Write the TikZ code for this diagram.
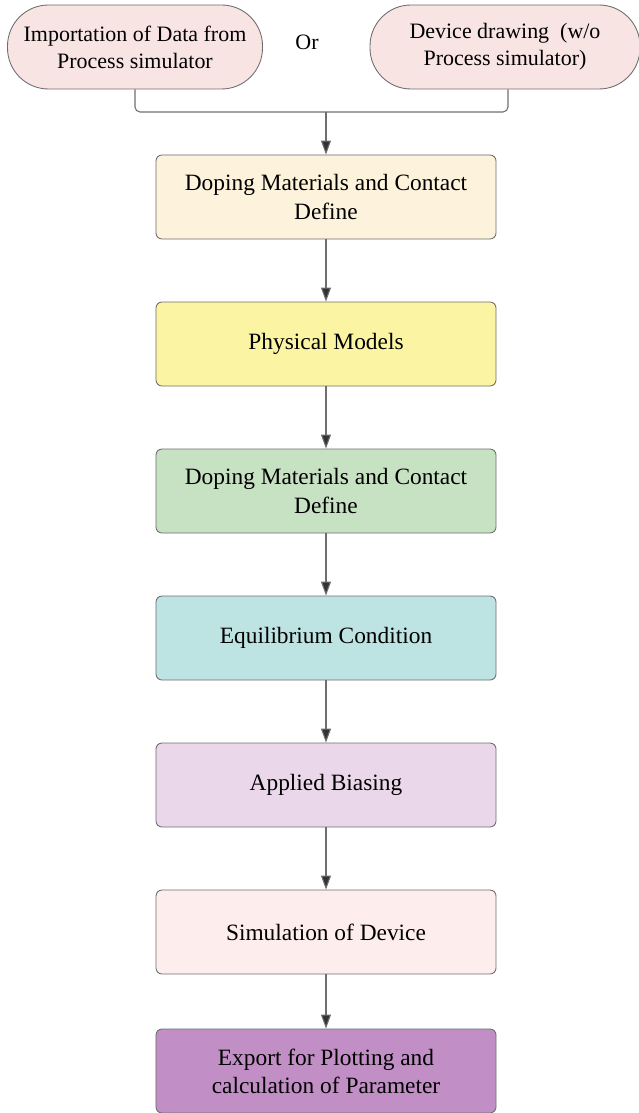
\documentclass[tikz,border=0pt]{standalone}
\usepackage{fontspec}
\setmainfont{Liberation Serif}
\usetikzlibrary{arrows.meta}
\definecolor{inpink}{HTML}{F9E4E4}
\definecolor{cream}{HTML}{FDF2DB}
\definecolor{lemon}{HTML}{FBF4A2}
\definecolor{sage}{HTML}{C7E1C3}
\definecolor{aqua}{HTML}{BEE3E3}
\definecolor{lilac}{HTML}{EAD8EA}
\definecolor{blush}{HTML}{FDEDED}
\definecolor{plum}{HTML}{C18FC5}
\definecolor{edge}{HTML}{6E6E6E}
\tikzstyle{stage} = [draw=edge, line width=0.5pt, rounded corners=1.2mm, minimum width=6.8cm, minimum height=1.68cm, align=center, font=\fontsize{13.3}{16}\selectfont]
\tikzstyle{source} = [draw=edge, fill=inpink, line width=0.5pt, rounded corners=0.82cm, minimum height=1.68cm, align=center, font=\fontsize{12.5}{15.5}\selectfont]
\tikzstyle{line} = [draw=edge, line width=0.6pt, -{Triangle[length=2.8mm,width=2mm,fill=black!80]}]

\begin{document}
\begin{tikzpicture}[x=0.2mm,y=-0.2mm]
\useasboundingbox (0,0) rectangle (639,1113);

%Inputs
\node[source, minimum width=5.1cm] (import) at (135,47) {Importation of Data from\\Process simulator};
\node[source, minimum width=5.4cm] (drawing) at (505,47) {Device drawing~ (w/o\\Process simulator)};
\node[font=\fontsize{12.5}{15.5}\selectfont] (or) at (307,42) {Or};

%Flow boxes
\node[stage, fill=cream] (define1) at (326,197) {Doping Materials and Contact\\Define};
\node[stage, fill=lemon] (models) at (326,344) {Physical Models};
\node[stage, fill=sage] (define2) at (326,491) {Doping Materials and Contact\\Define};
\node[stage, fill=aqua] (equil) at (326,638) {Equilibrium Condition};
\node[stage, fill=lilac] (bias) at (326,785) {Applied Biasing};
\node[stage, fill=blush] (sim) at (326,932) {Simulation of Device};
\node[stage, fill=plum] (export) at (326,1071) {Export for Plotting and\\calculation of Parameter};

%Merge of the two inputs
\coordinate (join) at (326,112);
\draw[draw=edge, line width=0.6pt, rounded corners=1mm] (import.south) |- (join);
\draw[draw=edge, line width=0.6pt, rounded corners=1mm] (drawing.south -| 508,0) |- (join);
\path[line] (join) -- (define1.north);

%Arrows between stages
\path[line] (define1) -- (models);
\path[line] (models) -- (define2);
\path[line] (define2) -- (equil);
\path[line] (equil) -- (bias);
\path[line] (bias) -- (sim);
\path[line] (sim) -- (export);

\end{tikzpicture}
\end{document}
